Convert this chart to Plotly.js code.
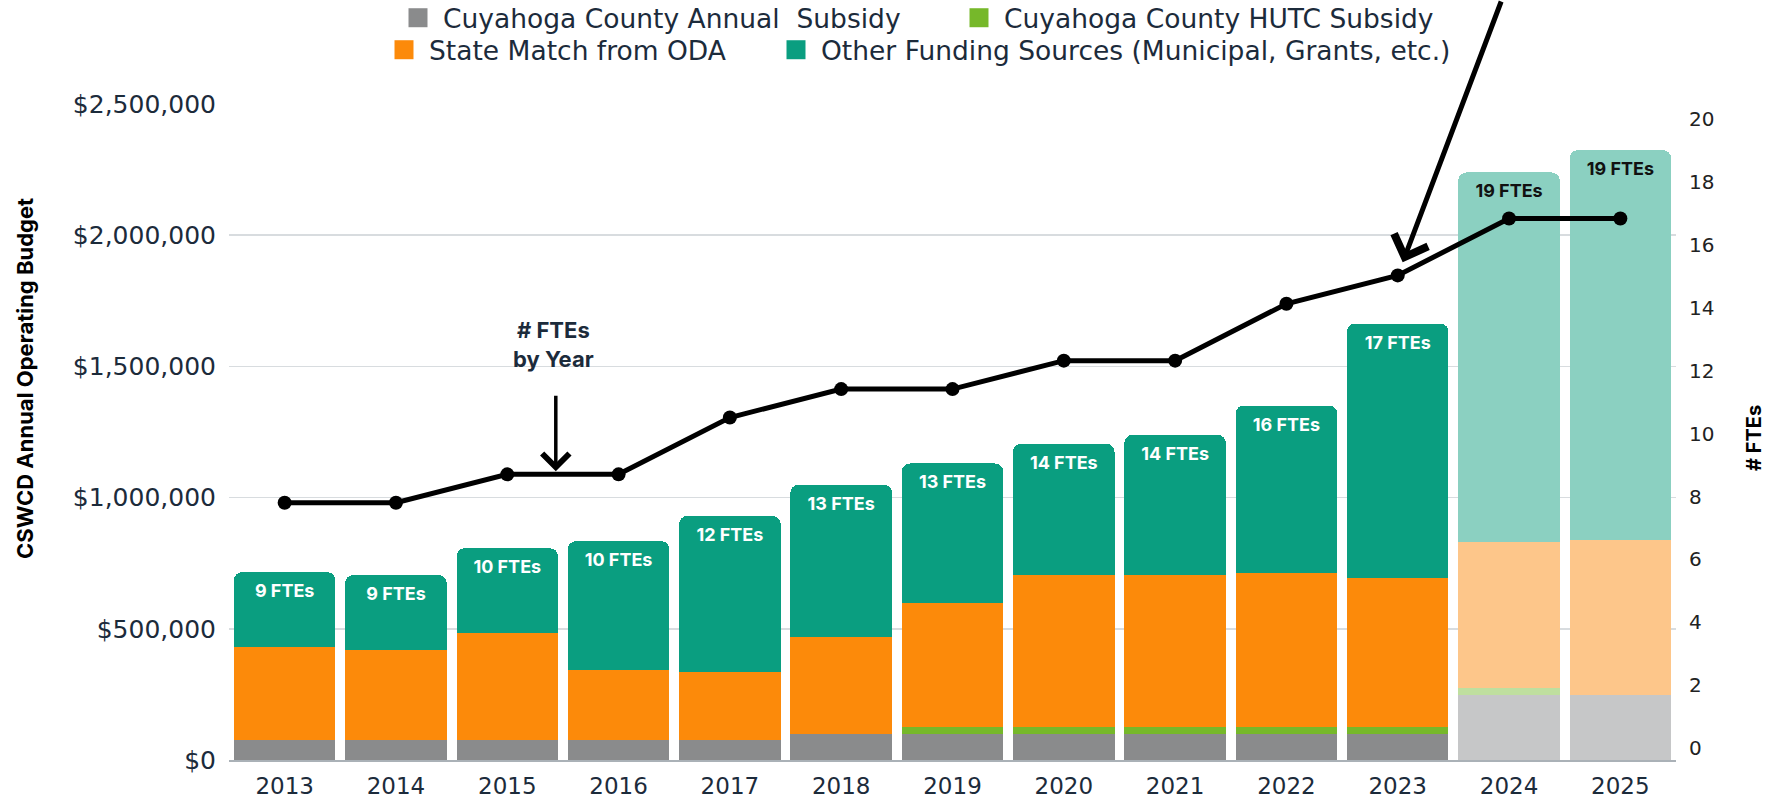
<!DOCTYPE html>
<html>
<head>
<meta charset="utf-8">
<script src="https://cdn.plot.ly/plotly-3.0.1.min.js"></script>
<style>
  html, body { margin: 0; padding: 0; background: #ffffff; }
  #chart { width: 1773px; height: 803px; }
</style>
</head>
<body>
<div id="chart"></div>
<script>
// ---------------- data ----------------
const years = ['2013','2014','2015','2016','2017','2018','2019','2020','2021','2022','2023','2024','2025'];
const annualSubsidy = [75000,75000,75000,75000,75000,98000,98000,98000,98000,98000,98000,248000,248000];
const hutcSubsidy   = [0,0,0,0,0,0,26000,26000,26000,26000,26000,26000,0];
const stateMatch    = [354000,346000,408000,269000,261000,371000,474000,582000,582000,587000,569000,557000,591000];
const otherFunding  = [287000,284000,324000,490000,594000,580000,532000,499000,533000,640000,970000,1408000,1485000];
const fteCount      = [9,9,10,10,12,13,13,14,14,16,17,19,19];
const fteLabels     = fteCount.map(n => n + ' FTEs');
const projectedYears = ['2024','2025'];

const seriesNames = [
  'Cuyahoga County Annual  Subsidy',
  'Cuyahoga County HUTC Subsidy',
  'State Match from ODA',
  'Other Funding Sources (Municipal, Grants, etc.)'
];
const leftTicks = [0, 500000, 1000000, 1500000, 2000000, 2500000];
const leftTickText = leftTicks.map(v => '$' + v.toLocaleString('en-US'));
const rightTicks = [0,2,4,6,8,10,12,14,16,18,20];

// ---------------- styling ----------------
const FONT = 'Inter, "Open Sans", sans-serif';
const WIDE = '"DejaVu Sans", Inter, sans-serif';
const NAVY = '#1c2b3b';
const isProj = years.map(y => projectedYears.includes(y));
const pick = (dark, light) => isProj.map(p => p ? light : dark);

const colGray   = pick('#8a8b8c', '#c6c7c8');
const colGreen  = pick('#76b82a', '#bfdf9f');
const colOrange = pick('#fc8a0a', '#fdc68a');
const colTeal   = pick('#0a9e80', '#8bd0c1');
const labelColors = pick('#ffffff', '#111111');

function barTrace(name, values, colors, legendId, extra) {
  return Object.assign({
    type: 'bar', name: name, x: years, y: values,
    marker: { color: colors, line: { width: 0 } },
    legend: legendId,
    hoverinfo: 'skip'
  }, extra || {});
}

const traces = [
  barTrace(seriesNames[0], annualSubsidy, colGray, 'legend'),
  barTrace(seriesNames[1], hutcSubsidy, colGreen, 'legend2'),
  barTrace(seriesNames[2], stateMatch, colOrange, 'legend3'),
  barTrace(seriesNames[3], otherFunding, colTeal, 'legend4', {
    text: fteLabels,
    textposition: 'inside',
    insidetextanchor: 'end',
    textangle: 0,
    constraintext: 'none',
    textfont: { family: FONT, size: 18, weight: 700, color: labelColors }
  }),
  {
    type: 'scatter', mode: 'lines+markers', name: '# FTEs',
    x: years, y: fteCount, yaxis: 'y3',
    line: { color: '#000000', width: 5 },
    marker: { color: '#000000', size: 14 },
    showlegend: false, hoverinfo: 'skip', cliponaxis: false
  },
  {
    // carrier for the right-hand FTE axis ticks (invisible)
    type: 'scatter', mode: 'markers', x: years, y: fteCount, yaxis: 'y2',
    marker: { opacity: 0, size: 1 }, showlegend: false, hoverinfo: 'skip'
  }
];

// plot area in pixels
const W = 1773, H = 803;
const L = 229, R = 97, T = 104, B = 43;
const pw = W - L - R, ph = H - T - B;
const px2x = px => (px - L) / pw;
const px2y = py => (H - B - py) / ph;

const legendBase = {
  orientation: 'h', xanchor: 'left', yanchor: 'middle',
  bgcolor: 'rgba(0,0,0,0)', borderwidth: 0,
  font: { family: WIDE, size: 26.5, color: NAVY }
};

const layout = {
  width: W, height: H,
  margin: { l: L, r: R, t: T, b: B, pad: 0, autoexpand: false },
  paper_bgcolor: '#ffffff', plot_bgcolor: '#ffffff',
  barmode: 'stack', bargap: 0.088, barcornerradius: 8,
  hovermode: false,
  font: { family: FONT, color: NAVY },
  xaxis: {
    type: 'category', range: [-0.5, 12.5], fixedrange: true,
    showgrid: false, zeroline: false,
    showline: true, linecolor: '#aab1b7', linewidth: 2,
    ticks: '', ticklabelstandoff: 4, automargin: false,
    tickfont: { family: WIDE, size: 23, color: NAVY }
  },
  yaxis: {
    range: [0, 2500000], tickmode: 'array', tickvals: leftTicks, ticktext: leftTickText,
    showgrid: true, gridcolor: '#d8dcdf', gridwidth: 1.5, zeroline: false,
    showline: false, ticks: '', ticklabelstandoff: 12, automargin: false,
    tickfont: { family: WIDE, size: 25, color: NAVY }
  },
  yaxis2: {
    overlaying: 'y', side: 'right', range: [-0.38, 20.49], tickmode: 'array', tickvals: rightTicks,
    showgrid: false, zeroline: false, showline: false, ticks: '',
    ticklabelstandoff: 12, automargin: false,
    tickfont: { family: WIDE, size: 20, color: '#222222' }
  },
  yaxis3: {
    overlaying: 'y', side: 'right', range: [-0.05, 23.03], visible: false
  },
  legend:  Object.assign({}, legendBase, { x: px2x(403), y: px2y(18) }),
  legend2: Object.assign({}, legendBase, { x: px2x(964), y: px2y(18) }),
  legend3: Object.assign({}, legendBase, { x: px2x(389), y: px2y(50) }),
  legend4: Object.assign({}, legendBase, { x: px2x(781), y: px2y(50) }),
  annotations: [
    {
      text: 'CSWCD Annual Operating Budget', textangle: -90,
      xref: 'paper', yref: 'paper', x: px2x(25), y: px2y(379),
      xanchor: 'center', yanchor: 'middle', showarrow: false,
      font: { family: FONT, size: 22, weight: 700, color: '#000000' }
    },
    {
      text: '# FTEs', textangle: -90,
      xref: 'paper', yref: 'paper', x: px2x(1754), y: px2y(438),
      xanchor: 'center', yanchor: 'middle', showarrow: false,
      font: { family: FONT, size: 20, weight: 700, color: '#000000' }
    },
    {
      text: '# FTEs<br>by Year',
      xref: 'x', yref: 'paper', x: 2.418, y: px2y(344),
      xanchor: 'center', yanchor: 'middle', showarrow: false,
      font: { family: FONT, size: 22, weight: 700, color: NAVY }
    },
    {
      text: '', xref: 'x', yref: 'y3', x: 2.436, y: fteCount[2],
      showarrow: true, axref: 'pixel', ayref: 'pixel', ax: 0, ay: -80,
      arrowhead: 4, arrowsize: 1.5, arrowwidth: 3.5, arrowcolor: '#000000', standoff: 3
    },
    {
      text: '', xref: 'x', yref: 'y3', x: 10, y: fteCount[10],
      showarrow: true, axref: 'pixel', ayref: 'pixel', ax: 104, ay: -278,
      arrowhead: 4, arrowsize: 1.4, arrowwidth: 5, arrowcolor: '#000000', standoff: 14
    }
  ]
};

Plotly.newPlot('chart', traces, layout, { displayModeBar: false, staticPlot: true }).then(gd => {
  // enlarge the legend colour swatches to match the reference's bigger squares
  gd.querySelectorAll('.legendpoints path').forEach(p => {
    p.setAttribute('d', 'M4.5,9.5H-14.5V-9.5H4.5Z');
  });
});
</script>
</body>
</html>
